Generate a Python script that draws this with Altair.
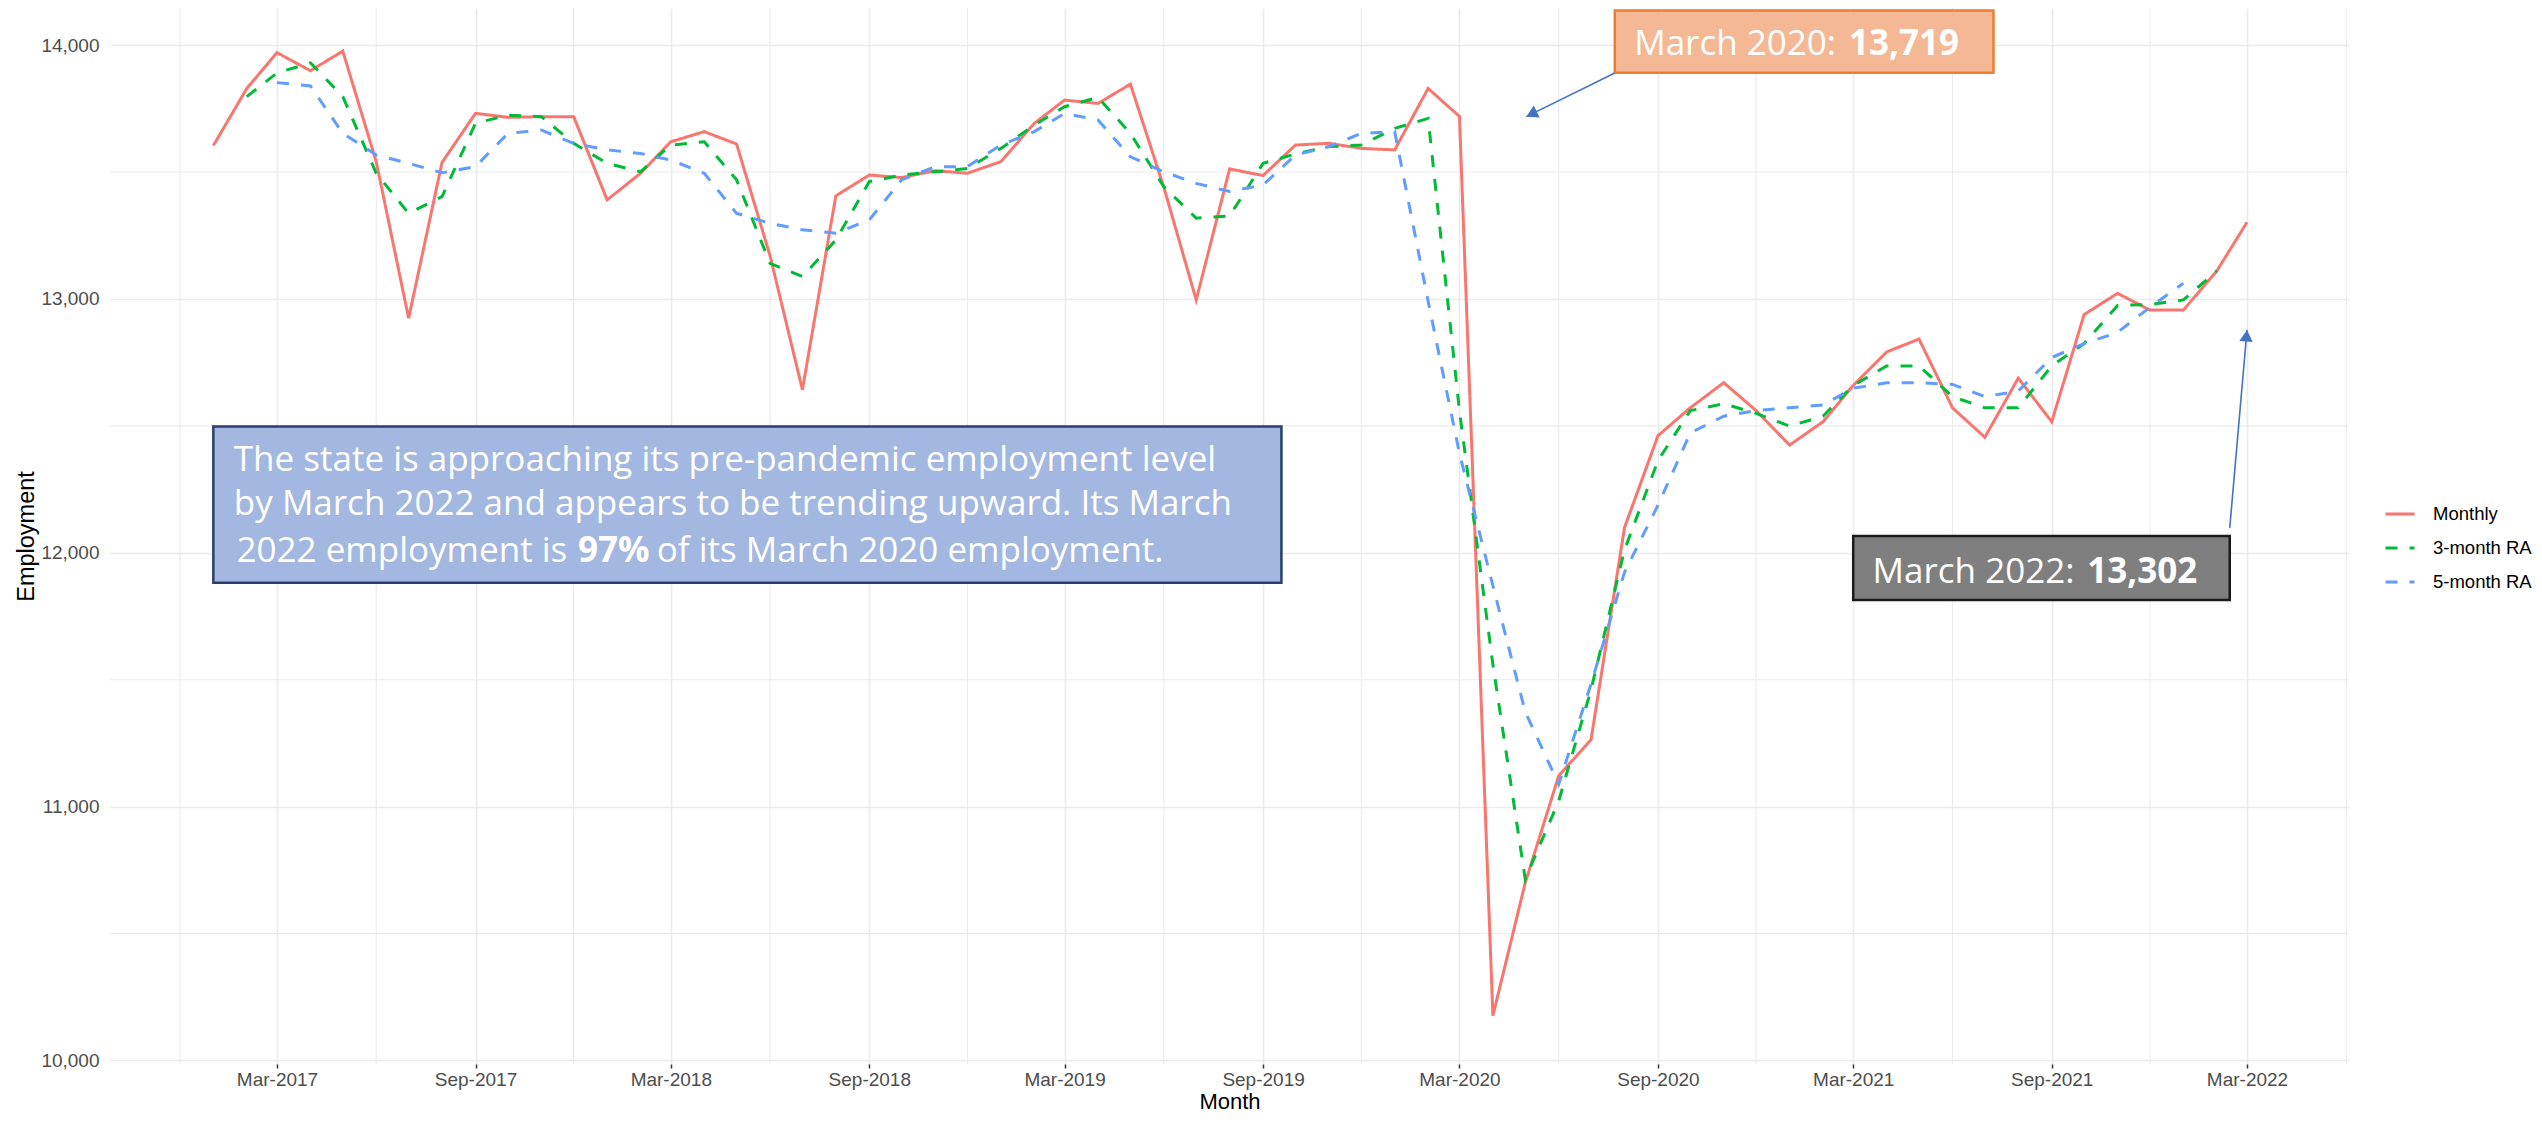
import altair as alt
import pandas as pd

# ---------------- data ----------------
first_month = "2017-01-01"
series_names = ["Monthly", "3-month RA", "5-month RA"]
series_colors = ["#F8766D", "#00BA38", "#619CFF"]

# Jan 2017 .. Mar 2022
monthly = [13604, 13829, 13970, 13899, 13976, 13540, 12924, 13538, 13731, 13715, 13718, 13718,
           13390, 13495, 13619, 13659, 13610, 13170, 12642, 13406, 13488, 13478, 13505, 13495,
           13541, 13692, 13783, 13770, 13846, 13440, 12996, 13512, 13486, 13606, 13613, 13593,
           13587, 13829, 13719, 10176, 10700, 11121, 11264, 12099, 12461, 12571, 12670, 12560,
           12424, 12516, 12659, 12791, 12842, 12571, 12455, 12688, 12516, 12938, 13022, 12956,
           12956, 13110, 13302]
# Feb 2017 .. Feb 2022
ra3 = [13797, 13890, 13930, 13797, 13495, 13337, 13403, 13692, 13724, 13718, 13613,
       13534, 13501, 13606, 13619, 13469, 13140, 13088, 13232, 13462, 13488, 13501, 13514,
       13593, 13685, 13757, 13794, 13652, 13442, 13318, 13327, 13534, 13571, 13600, 13606,
       13672, 13711, 12560, 11560, 10714, 11022, 11461, 12011, 12363, 12560, 12587, 12549,
       12499, 12538, 12659, 12736, 12736, 12615, 12571, 12571, 12736, 12824, 12974, 12978,
       12996, 13110]
# Mar 2017 .. Jan 2022
ra5 = [13852, 13839, 13652, 13567, 13534, 13497, 13521, 13652, 13665, 13613,
       13587, 13573, 13547, 13495, 13337, 13298, 13272, 13259, 13311, 13469, 13521, 13521,
       13606, 13659, 13731, 13705, 13560, 13501, 13455, 13423, 13449, 13567, 13600, 13652,
       13659, 12990, 12392, 11870, 11373, 11088, 11483, 11923, 12187, 12472, 12538, 12560,
       12571, 12582, 12648, 12670, 12670, 12663, 12615, 12637, 12769, 12824, 12868, 12967,
       13062]

major_x = ["2017-03-01", "2017-09-01", "2018-03-01", "2018-09-01", "2019-03-01", "2019-09-01",
           "2020-03-01", "2020-09-01", "2021-03-01", "2021-09-01", "2022-03-01"]
minor_x = ["2016-12-01", "2017-06-01", "2017-12-01", "2018-06-01", "2018-12-01", "2019-06-01",
           "2019-12-01", "2020-06-01", "2020-12-01", "2021-06-01", "2021-12-01", "2022-06-01"]
major_y = [10000, 11000, 12000, 13000, 14000]
minor_y = [10500, 11500, 12500, 13500]

# annotation boxes
box_x = ["2017-01-01", "2020-07-23", "2021-03-01"]
box_x2 = ["2019-09-18", "2021-07-09", "2022-02-13"]
box_y = [11882, 13891, 11814]
box_y2 = [12497, 14136, 12066]
box_fill = ["#A2B8E0", "#F4B994", "#7F7F7F"]
box_stroke = ["#2B3F6C", "#ED7D31", "#1A1A1A"]

# text segments (regular left / regular right / bold left)
txt_left = ["The state is approaching its pre-pandemic employment level",
            "by March 2022 and appears to be trending upward. Its March",
            "of its March 2020 employment."]
txt_left_x = ["2017-01-20", "2017-01-20", "2018-02-16"]
txt_left_y = [12323, 12149, 11965]
txt_right = ["2022 employment is", "March 2020:", "March 2022:"]
txt_right_x = ["2017-11-25", "2021-02-13", "2021-09-22"]
txt_right_y = [11965, 13961, 11881]
txt_bold = ["97%", "13,719", "13,302"]
txt_bold_x = ["2017-12-05", "2021-02-25", "2021-10-04"]
txt_bold_y = [11965, 13961, 11881]

# arrows (start -> tip)
arrow_x = ["2020-07-23", "2022-02-13"]
arrow_y = [13890, 12098]
arrow_x2 = ["2020-05-02", "2022-03-01"]
arrow_y2 = [13718, 12878]
arrow_angle = [243.6, 4.9]
arrow_color = "#4472C4"

# ---------------- tables ----------------
months = pd.date_range(first_month, periods=len(monthly), freq="MS").strftime("%Y-%m-%d")
rows = [{"date": d, "value": v, "series": "Monthly"} for d, v in zip(months, monthly)]
rows += [{"date": d, "value": v, "series": "3-month RA"} for d, v in zip(months[1:], ra3)]
rows += [{"date": d, "value": v, "series": "5-month RA"} for d, v in zip(months[2:], ra5)]
df = pd.DataFrame(rows)

def ms(s):
    return int(pd.Timestamp(s, tz="UTC").value // 10**6)

DAY = 86400000
x_domain = [ms("2017-03-01") - 154.79 * DAY, ms("2022-03-01") + 94.54 * DAY]
xscale = alt.Scale(type="utc", domain=x_domain)
yscale = alt.Scale(domain=[9986, 14146], nice=False, zero=False)

W, H = 2239, 1056
GRID = "#EBEBEB"
AXFONT = "Liberation Sans"

axis_x = alt.Axis(values=[ms(s) for s in major_x],
                  labelExpr="utcFormat(datum.value, '%b-%Y')",
                  labelFont=AXFONT, labelFontSize=19, labelColor="#4D4D4D",
                  labelPadding=2, ticks=True, tickSize=4, tickColor="#333333",
                  tickWidth=1.5, domain=False, grid=True, gridColor=GRID,
                  gridWidth=1.6, titleFont=AXFONT, titleFontSize=22,
                  titleFontWeight="normal", titleColor="black",
                  titleY=44, titleBaseline="alphabetic")
axis_y = alt.Axis(values=major_y, format=",d", labelFont=AXFONT, labelFontSize=19,
                  labelColor="#4D4D4D", labelPadding=11, ticks=False, tickSize=0,
                  domain=False, grid=True, gridColor=GRID, gridWidth=1.6,
                  titleFont=AXFONT, titleFontSize=23.5, titleFontWeight="normal",
                  titleColor="black", titleX=-84, titleBaseline="middle")

def X(field):
    return alt.X(field, scale=xscale, axis=axis_x, title="Month")

def Y(field):
    return alt.Y(field, scale=yscale, axis=axis_y, title="Employment")

# ---------------- layers ----------------
grid_x = alt.Chart(pd.DataFrame({"d": minor_x})).mark_rule(color=GRID, strokeWidth=1.1).encode(
    x=X("d:T"))
grid_y = alt.Chart(pd.DataFrame({"v": minor_y})).mark_rule(color=GRID, strokeWidth=1.1).encode(
    y=Y("v:Q"))

leg = alt.Legend(orient="none", legendX=2274, legendY=490, title=None, symbolType="stroke",
                 symbolSize=841, symbolStrokeWidth=3, labelFont=AXFONT, labelFontSize=18.5,
                 labelColor="black", labelOffset=17, rowPadding=8, padding=0)

lines = alt.Chart(df).mark_line(strokeWidth=3).encode(
    x=X("date:T"),
    y=Y("value:Q"),
    color=alt.Color("series:N", scale=alt.Scale(domain=series_names, range=series_colors),
                    legend=leg),
    strokeDash=alt.StrokeDash("series:N",
                              scale=alt.Scale(domain=series_names,
                                              range=[[1, 0], [12, 12], [12, 12]]),
                              legend=leg),
)

boxes_df = pd.DataFrame({"x": box_x, "x2": box_x2, "y": box_y, "y2": box_y2,
                         "fill": box_fill, "stroke": box_stroke})
boxes = alt.Chart(boxes_df).mark_rect(strokeWidth=2.5).encode(
    x=X("x:T"), x2="x2:T",
    y=Y("y:Q"), y2="y2:Q",
    fill=alt.Fill("fill:N", scale=None), stroke=alt.Stroke("stroke:N", scale=None))

def text_layer(texts, xs, ys, align, weight):
    d = pd.DataFrame({"t": texts, "x": xs, "y": ys})
    return alt.Chart(d).mark_text(align=align, baseline="alphabetic", font="Open Sans",
                                  fontSize=35, fontWeight=weight, color="white").encode(
        x=X("x:T"), y=Y("y:Q"), text="t:N")

t1 = text_layer(txt_left, txt_left_x, txt_left_y, "left", "normal")
t2 = text_layer(txt_right, txt_right_x, txt_right_y, "right", "normal")
t3 = text_layer(txt_bold, txt_bold_x, txt_bold_y, "left", "bold")

arrows_df = pd.DataFrame({"x": arrow_x, "y": arrow_y, "x2": arrow_x2, "y2": arrow_y2,
                          "angle": arrow_angle})
arrow_lines = alt.Chart(arrows_df).mark_rule(color=arrow_color, strokeWidth=1.6).encode(
    x=X("x:T"), x2="x2:T", y=Y("y:Q"), y2="y2:Q")

def head(i, dx, dy):
    d = arrows_df.iloc[[i]]
    return alt.Chart(d).mark_point(shape="triangle-up", filled=True, size=180, opacity=1,
                                   color=arrow_color, xOffset=dx, yOffset=dy).encode(
        x=X("x2:T"), y=Y("y2:Q"),
        angle=alt.Angle("angle:Q", scale=None))

h1 = head(0, 5.2, -2.6)
h2 = head(1, -0.5, 5.8)

chart = alt.layer(grid_x, grid_y, lines, boxes, t1, t2, t3, arrow_lines, h1, h2).properties(
    width=W, height=H,
    padding={"left": 102, "top": 0, "right": 185, "bottom": 49},
    autosize=alt.AutoSizeParams(type="none"),
    background="white",
).configure_view(stroke=None)

chart.save("out.html", embed_options={"renderer": "svg", "actions": False})
